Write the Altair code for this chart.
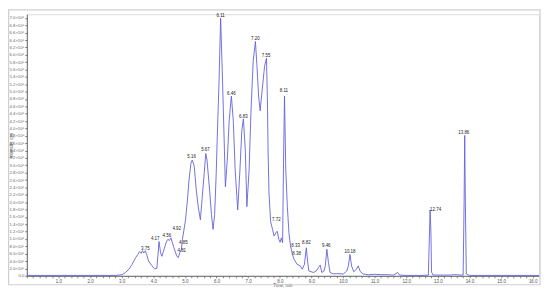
import altair as alt
import pandas as pd

# Retention time (min) and intensity (x10^6 cps)
rt = [0.0, 1.0, 2.0, 2.8, 2.91, 3.01, 3.12, 3.23, 3.33, 3.44, 3.51, 3.57, 3.62, 3.66, 3.70,
      3.75, 3.79, 3.85, 3.96, 4.04, 4.11, 4.15, 4.18, 4.23, 4.27, 4.32, 4.38, 4.42, 4.46,
      4.51, 4.56, 4.60, 4.65, 4.74, 4.79, 4.84, 4.89, 4.92, 4.98, 5.02, 5.08, 5.13, 5.19,
      5.23, 5.29, 5.31, 5.36, 5.42, 5.49, 5.54, 5.61, 5.66, 5.70, 5.78, 5.84, 5.89, 5.94,
      5.99, 6.02, 6.08, 6.13, 6.19, 6.25, 6.28, 6.34, 6.40, 6.47, 6.53, 6.59, 6.67, 6.74,
      6.80, 6.85, 6.91, 6.96, 7.03, 7.09, 7.16, 7.23, 7.28, 7.33, 7.38, 7.44, 7.52, 7.58,
      7.61, 7.63, 7.66, 7.71, 7.77, 7.82, 7.88, 7.92, 7.97, 8.01, 8.05, 8.09, 8.12, 8.15,
      8.19, 8.24, 8.29, 8.34, 8.40, 8.45, 8.55, 8.65, 8.71, 8.78, 8.84, 8.88, 8.92, 9.07,
      9.15, 9.23, 9.28, 9.33, 9.40, 9.44, 9.49, 9.54, 9.59, 9.70, 9.80, 10.01, 10.12, 10.17,
      10.22, 10.27, 10.34, 10.43, 10.48, 10.55, 10.64, 10.8, 11.0, 11.2, 11.4, 11.6, 11.73,
      11.79, 12.0, 12.5, 12.70, 12.73, 12.755, 12.78, 12.80, 12.85, 13.4, 13.5, 13.6, 13.7,
      13.80, 13.83, 13.85, 13.87, 13.90, 13.95, 14.0, 15.0, 16.2]
intensity = [0.01, 0.01, 0.01, 0.01, 0.02, 0.03, 0.09, 0.18, 0.31, 0.49, 0.58, 0.66, 0.61, 0.68, 0.62,
             0.68, 0.58, 0.40, 0.27, 0.19, 0.20, 0.58, 0.93, 0.63, 0.53, 0.66, 0.83, 0.93, 0.99,
             0.96, 1.03, 0.91, 0.77, 0.54, 0.49, 0.63, 0.72, 0.99, 1.30, 1.52, 2.06, 2.60, 3.05,
             3.14, 3.00, 2.82, 2.33, 1.88, 1.52, 2.06, 2.78, 3.32, 3.14, 2.33, 1.66, 1.26, 1.66,
             2.78, 3.67, 5.29, 6.99, 5.29, 3.41, 2.42, 3.14, 4.21, 4.88, 4.21, 2.87, 1.79, 2.87,
             3.94, 4.26, 3.41, 1.88, 2.87, 4.48, 5.83, 6.36, 5.69, 4.88, 4.48, 5.02, 5.69, 5.91,
             4.75, 3.41, 2.24, 1.48, 1.26, 1.08, 1.17, 1.21, 0.99, 0.91, 1.03, 0.90, 3.14, 4.88,
             2.87, 1.88, 1.17, 0.81, 0.58, 0.45, 0.31, 0.27, 0.18, 0.31, 0.76, 0.40, 0.13, 0.09,
             0.13, 0.23, 0.29, 0.09, 0.13, 0.27, 0.72, 0.36, 0.09, 0.05, 0.06, 0.05, 0.13, 0.27,
             0.58, 0.27, 0.11, 0.18, 0.27, 0.11, 0.05, 0.03, 0.04, 0.03, 0.03, 0.02, 0.09,
             0.02, 0.01, 0.01, 0.02, 1.0, 1.79, 1.2, 0.1, 0.02, 0.02, 0.03, 0.03, 0.02,
             0.02, 2.0, 3.81, 2.0, 0.05, 0.03, 0.01, 0.01, 0.01]

# Peak annotations: text, and where the text sits (time, intensity x10^6)
peak_labels = ["3.75", "4.17", "4.56", "4.92", "4.85", "4.81", "5.16", "5.67", "6.11", "6.46",
               "6.83", "7.20", "7.55", "7.72", "8.11", "8.33", "8.38", "8.82", "9.46", "10.18",
               "12.74", "13.86"]
label_rt = [3.75, 4.06, 4.43, 4.74, 4.95, 4.90, 5.21, 5.65, 6.13, 6.47,
            6.85, 7.23, 7.57, 7.89, 8.13, 8.50, 8.53, 8.84, 9.47, 10.22,
            12.93, 13.82]
label_int = [0.74, 0.99, 1.08, 1.26, 0.90, 0.67, 3.23, 3.42, 7.06, 4.94,
             4.32, 6.42, 5.96, 1.52, 5.02, 0.81, 0.58, 0.88, 0.80, 0.65,
             1.79, 3.87]

x_ticks = [round(0.2 * i, 1) for i in range(81)]
y_ticks = [round(0.2 * i, 1) for i in range(36)]

trace = pd.DataFrame({"rt": rt, "intensity": intensity})
labels = pd.DataFrame({"label": peak_labels, "rt": label_rt, "intensity": label_int})

FONT = "Liberation Sans"
xscale = alt.Scale(domain=[0, 16.2], nice=False, zero=False)
yscale = alt.Scale(domain=[0, 7.1], nice=False)

xaxis = alt.Axis(title="Time, min", values=x_ticks,
                 labelExpr="abs(datum.value - round(datum.value)) < 0.001 && datum.value > 0 ? format(datum.value, '.1f') : ''",
                 labelOverlap=False, labelFlush=False,
                 labelFont=FONT, labelFontSize=4.5, labelColor="#555",
                 tickSize=2, tickColor="#888", domainColor="#666", domainWidth=1,
                 labelPadding=1, grid=False,
                 titleFont=FONT, titleFontSize=4.5, titleFontWeight="normal",
                 titleColor="#555", titleX=258, titleY=10, titleAlign="center",
                 titleBaseline="middle")
yaxis = alt.Axis(title="Intensity, cps", values=y_ticks,
                 labelExpr="datum.value == 0 ? '0.0' : (datum.value < 1 ? format(datum.value*10, '.1f') + '×10⁵' : format(datum.value, '.1f') + '×10⁶')",
                 labelOverlap=False, labelFlush=False,
                 labelFont=FONT, labelFontSize=4.3, labelColor="#666",
                 tickSize=2, tickColor="#777", domainColor="#666", domainWidth=1,
                 labelPadding=1, grid=False,
                 titleFont=FONT, titleFontSize=4.5, titleFontWeight="normal",
                 titleColor="#555", titleX=-15, titleBaseline="middle")

line = alt.Chart(trace).mark_line(color="#6262dc", strokeWidth=0.9, interpolate="linear").encode(
    x=alt.X("rt:Q", scale=xscale, axis=xaxis),
    y=alt.Y("intensity:Q", scale=yscale, axis=yaxis),
)

text = alt.Chart(labels).mark_text(font=FONT, fontSize=4.5, color="#222",
                                   align="center", baseline="middle").encode(
    x=alt.X("rt:Q", scale=xscale, axis=xaxis),
    y=alt.Y("intensity:Q", scale=yscale, axis=yaxis),
    text="label:N",
)

frame = alt.Chart(pd.DataFrame({"k": [0]})).mark_rect(
    fill=None, stroke="#cfcfcf", strokeWidth=1.2
).encode(
    x=alt.value(-18.4), x2=alt.value(518), y=alt.value(-4.4), y2=alt.value(273)
)

chart = alt.layer(frame, line, text).properties(
    width=517, height=264,
    autosize=alt.AutoSizeParams(type="none"),
    padding={"left": 19, "top": 5, "right": 3, "bottom": 11},
).configure_view(stroke=None).configure_axis(labelOverlap=False).configure(background="white")

chart.save("out.html", embed_options={"renderer": "svg", "actions": False})
